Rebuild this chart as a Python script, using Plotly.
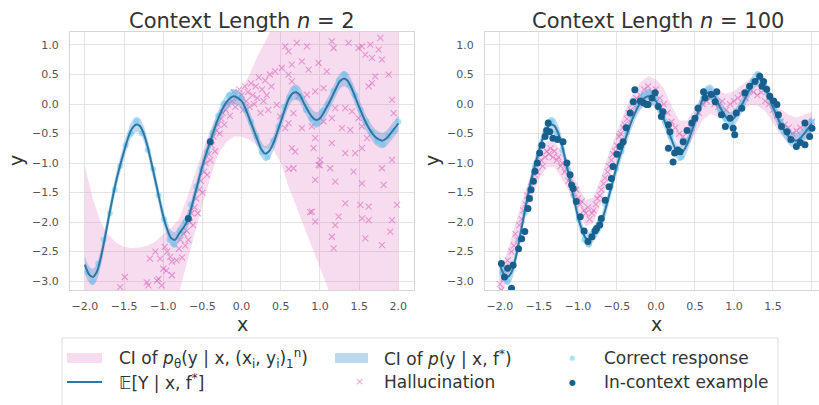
import plotly.graph_objects as go

# ---------------- data ----------------
# true mean function E[Y | x, f*]
true_x = [-2.0, -1.95, -1.9, -1.85, -1.8, -1.75, -1.7, -1.6, -1.5, -1.45, -1.4, -1.35, -1.3, -1.25, -1.2,
          -1.1, -1.0, -0.95, -0.9, -0.85, -0.8, -0.7, -0.6, -0.5, -0.4, -0.3, -0.2, -0.1, 0.0, 0.05, 0.1,
          0.2, 0.25, 0.3, 0.35, 0.4, 0.5, 0.6, 0.65, 0.7, 0.75, 0.8, 0.9, 0.95, 1.0, 1.1, 1.2, 1.25, 1.3,
          1.35, 1.4, 1.5, 1.6, 1.7, 1.75, 1.8, 1.85, 1.9, 2.0]
true_y = [-2.72, -2.88, -2.93, -2.85, -2.62, -2.3, -1.95, -1.3, -0.8, -0.58, -0.42, -0.35, -0.37, -0.5, -0.72,
          -1.3, -1.9, -2.12, -2.27, -2.3, -2.2, -2.0, -1.55, -1.05, -0.63, -0.25, 0.02, 0.13, 0.05, -0.08, -0.25,
          -0.6, -0.76, -0.84, -0.8, -0.68, -0.3, 0.08, 0.18, 0.2, 0.14, 0.0, -0.22, -0.27, -0.24, -0.02, 0.25, 0.38, 0.43,
          0.4, 0.28, -0.05, -0.35, -0.55, -0.6, -0.62, -0.58, -0.5, -0.33]
# CI of p(y | x, f*) : lower / upper
true_lo = [-2.86, -3.02, -3.07, -2.99, -2.76, -2.44, -2.09, -1.43, -0.93, -0.71, -0.55, -0.48, -0.5, -0.63, -0.85,
           -1.43, -2.03, -2.25, -2.4, -2.43, -2.33, -2.13, -1.68, -1.18, -0.76, -0.38, -0.11, 0.0, -0.08, -0.21, -0.38,
           -0.73, -0.89, -0.97, -0.93, -0.81, -0.43, -0.05, 0.05, 0.07, 0.01, -0.13, -0.35, -0.4, -0.37, -0.15, 0.12, 0.25, 0.3,
           0.27, 0.15, -0.18, -0.48, -0.68, -0.73, -0.75, -0.71, -0.63, -0.46]
true_hi = [-2.58, -2.74, -2.79, -2.71, -2.48, -2.16, -1.81, -1.17, -0.67, -0.45, -0.29, -0.22, -0.24, -0.37, -0.59,
           -1.17, -1.77, -1.99, -2.14, -2.17, -2.07, -1.87, -1.42, -0.92, -0.5, -0.12, 0.15, 0.26, 0.18, 0.05, -0.12,
           -0.47, -0.63, -0.71, -0.67, -0.55, -0.17, 0.21, 0.31, 0.33, 0.27, 0.13, -0.09, -0.14, -0.11, 0.11, 0.38, 0.51, 0.56,
           0.53, 0.41, 0.08, -0.22, -0.42, -0.47, -0.49, -0.45, -0.37, -0.2]

# grid for CI of p_theta
ci_x = [-2.0, -1.9, -1.8, -1.7, -1.6, -1.5, -1.4, -1.3, -1.2, -1.1, -1.0, -0.9, -0.8, -0.7, -0.6, -0.5, -0.4,
        -0.3, -0.2, -0.1, 0.0, 0.1, 0.2, 0.3, 0.4, 0.5, 0.6, 0.7, 0.8, 0.9, 1.0, 1.1, 1.2, 1.3, 1.4, 1.5, 1.6,
        1.7, 1.8, 1.9, 2.0]
# n = 2
pth_lo_n2 = [-3.6, -3.6, -3.6, -3.6, -3.6, -3.6, -3.6, -3.6, -3.6, -3.6, -3.6, -3.6, -3.2, -2.7, -2.2, -1.7, -1.25,
             -0.85, -0.65, -0.55, -0.55, -0.6, -0.7, -0.75, -0.75, -1.0, -1.4, -1.75, -2.1, -2.45, -2.8, -3.15, -3.5,
             -3.8, -3.8, -3.8, -3.8, -3.8, -3.8, -3.8, -3.8]
pth_hi_n2 = [-1.05, -1.6, -2.0, -2.22, -2.35, -2.42, -2.44, -2.43, -2.4, -2.33, -2.2, -2.1, -1.95, -1.6, -1.2, -0.8,
             -0.45, -0.15, 0.05, 0.15, 0.25, 0.5, 0.8, 1.05, 1.35, 1.6, 1.6, 1.6, 1.6, 1.6, 1.6, 1.6, 1.6, 1.6, 1.6,
             1.6, 1.6, 1.6, 1.6, 1.6, 1.6]
# n = 100
pth_lo_n100 = [-3.32, -2.92, -2.47, -2.02, -1.62, -1.27, -1.07, -1.07, -1.27, -1.52, -1.82, -2.07, -2.02, -1.67, -1.27,
               -0.92, -0.57, -0.27, -0.07, 0.03, -0.02, -0.17, -0.47, -0.72, -0.72, -0.52, -0.27, -0.17, -0.22, -0.27,
               -0.22, -0.12, -0.02, -0.02, -0.12, -0.32, -0.52, -0.62, -0.67, -0.62, -0.57]
pth_hi_n100 = [-2.88, -2.48, -2.03, -1.58, -1.18, -0.83, -0.63, -0.63, -0.83, -1.08, -1.38, -1.63, -1.58, -1.23, -0.83,
               -0.48, -0.13, 0.17, 0.37, 0.47, 0.42, 0.27, -0.03, -0.28, -0.28, -0.08, 0.17, 0.27, 0.22, 0.17, 0.22,
               0.32, 0.42, 0.42, 0.32, 0.12, -0.08, -0.18, -0.23, -0.18, -0.13]

# correct responses (samples of p(y | x, f*))
corr_x = [-1.97, -1.9, -1.83, -1.76, -1.68, -1.62, -1.55, -1.48, -1.41, -1.34, -1.27, -1.2, -1.13, -1.06, -0.99,
          -0.92, -0.86, -0.79, -0.72, -0.65, -0.58, -0.51, -0.44, -0.37, -0.3, -0.23, -0.16, -0.09, -0.02, 0.05,
          0.12, 0.19, 0.26, 0.33, 0.4, 0.47, 0.54, 0.61, 0.68, 0.75, 0.82, 0.89, 0.96, 1.03, 1.1, 1.17, 1.24, 1.31,
          1.38, 1.45, 1.52, 1.59, 1.66, 1.73, 1.8, 1.87, 1.94, 2.0]
corr_y = [-2.85, -3.0, -2.7, -2.3, -1.85, -1.45, -1.05, -0.7, -0.5, -0.3, -0.5, -0.78, -1.1, -1.55, -1.95,
          -2.3, -2.38, -2.15, -2.0, -1.7, -1.4, -1.1, -0.8, -0.48, -0.2, 0.0, 0.15, 0.18, 0.1, -0.1,
          -0.3, -0.55, -0.82, -0.9, -0.62, -0.38, -0.05, 0.12, 0.25, 0.1, -0.1, -0.25, -0.32, -0.12, 0.0, 0.22, 0.4, 0.5,
          0.32, 0.15, -0.1, -0.3, -0.48, -0.62, -0.68, -0.55, -0.45, -0.3]

# hallucinations, n = 2
hal2_x = [-1.17, -1.04, -0.98, -0.89, -1.0, -1.06, -1.19, -1.49, -1.55, -0.91, -0.83, -1.21, -1.08, -0.96, -1.02,
          -0.89, -1.1, -0.95,
          -0.8, -0.78, -0.76, -0.74, -0.72, -0.7, -0.68, -0.66, -0.64, -0.62, -0.6, -0.58, -0.56, -0.54, -0.52,
          -0.5, -0.48, -0.46, -0.44, -0.42, -0.4, -0.38, -0.36, -0.34, -0.32, -0.3, -0.28, -0.26, -0.24, -0.22,
          -0.2, -0.18, -0.15, -0.12, -0.1, -0.08, -0.05, -0.03, 0.0, 0.02, 0.04, 0.06, 0.08, 0.1, 0.12, 0.14,
          0.16, 0.18, 0.2, 0.22, 0.24, 0.26, 0.28, 0.3, 0.32, 0.34, 0.36, 0.38,
          0.556, 0.598, 0.705, 0.833, 1.152, 1.174, 1.365, 1.536, 1.642, 1.77, 1.749, 1.664, 1.578, 1.493, 1.791,
          1.876, 1.706, 1.664, 1.621, 1.919, 1.94, 0.428, 0.513, 0.641, 0.769, 0.854, 0.982, 1.088, 1.046, 0.939,
          0.833, 0.726, 0.641, 0.598, 0.662, 0.598, 0.556, 0.769, 0.897, 1.046, 1.152, 1.195, 1.323, 1.408, 1.493,
          1.28, 1.387, 1.536, 1.6, 1.536, 1.45, 1.323, 1.152, 0.939, 0.918, 1.003, 0.641, 0.684, 0.662, 0.939,
          0.982, 1.195, 1.131, 1.429, 1.536, 1.791, 1.813, 1.919, 1.983, 1.323, 1.514, 1.621, 1.536, 1.621, 1.238,
          1.195, 0.939, 0.897, 1.152, 1.174, 1.578, 1.791, 1.919, 1.898, 0.449, 0.492, 0.6, 1.0, 0.875]
hal2_y = [-2.62, -2.62, -2.42, -2.67, -2.79, -2.96, -3.07, -2.93, -3.1, -2.59, -2.65, -3.02, -2.99, -2.82, -3.07,
          -2.9, -2.5, -2.5,
          -2.45, -2.3, -2.6, -2.2, -2.4, -2.15, -2.3, -2.0, -1.85, -2.05, -1.75, -1.6, -1.85, -1.45, -1.3,
          -1.5, -1.15, -1.0, -1.2, -0.85, -0.95, -0.7, -0.55, -0.8, -0.45, -0.35, -0.5, -0.25, -0.15, -0.35,
          -0.1, 0.0, -0.2, 0.05, 0.2, -0.05, 0.1, 0.25, 0.15, -0.1, 0.3, 0.05, 0.2, -0.05, 0.35, 0.15,
          0.0, 0.3, 0.1, 0.45, -0.15, 0.25, 0.05, 0.4, 0.15, -0.1, 0.5, 0.3,
          0.978, 0.893, 1.034, 0.978, 1.063, 0.949, 1.034, 0.978, 1.006, 1.12, 0.921, 0.78, 0.836, 0.949, 0.751,
          0.497, 0.468, 0.355, 0.299, 0.072, -0.154, 0.553, 0.61, 0.666, 0.723, 0.582, 0.695, 0.553, 0.27, 0.214,
          0.157, 0.129, 0.383, 0.497, -0.154, -0.324, -0.409, -0.409, -0.38, -0.296, -0.239, -0.069, -0.069, -0.126, -0.239,
          -0.409, -0.437, -0.38, -0.578, -0.748, -0.833, -0.833, -0.663, -0.578, -0.748, -0.946, -0.748, -0.805, -1.088, -1.286,
          -1.031, -1.314, -1.088, -1.144, -1.343, -1.088, -1.371, -0.946, -1.71, -1.682, -1.71, -1.739, -1.937, -1.965, -1.908,
          -2.05, -1.993, -1.824, -2.248, -2.446, -2.276, -2.39, -1.965, -2.163, -0.013, -0.211, -1.1, -1.04, -1.83]

# in-context examples, n = 2
ctx2_x = [-0.68, -0.40]
ctx2_y = [-1.94, -0.64]

# hallucinations, n = 100
hal100_x = [-2.0, -1.98, -1.95, -1.92, -1.9, -1.87, -1.85, -1.82, -1.8, -1.77, -1.75, -1.72, -1.7, -1.67, -1.65,
            -1.62, -1.6, -1.57, -1.55, -1.52, -1.5, -1.47, -1.45, -1.42, -1.4, -1.37, -1.35, -1.32, -1.3, -1.27,
            -1.25, -1.22, -1.2, -1.17, -1.15, -1.12, -1.1, -1.07, -1.05, -1.02, -1.0, -0.97, -0.95, -0.92, -0.9,
            -0.87, -0.85, -0.82, -0.8, -0.77, -0.75, -0.72, -0.7, -0.67, -0.65, -0.62, -0.6, -0.57, -0.55, -0.52,
            -0.5, -0.47, -0.45, -0.42, -0.4, -0.37, -0.35, -0.32, -0.3, -0.25, -0.2, -0.15, -0.1, -0.05, 0.0, 0.05,
            0.1, 0.15, 0.2, 0.25, 0.3, 0.35, 0.4, 0.45, 0.5, 0.55, 0.6, 0.65, 0.7, 0.75, 0.8, 0.85, 0.9, 0.95, 1.0,
            1.05, 1.1, 1.15, 1.2, 1.25, 1.3, 1.35, 1.4, 1.45, 1.5, 1.55, 1.6, 1.65, 1.7, 1.75, 1.8, 1.85, 1.9,
            1.95, 2.0]
hal100_y = [-3.05, -3.15, -2.95, -2.8, -2.65, -2.75, -2.5, -2.4, -2.2, -2.3, -2.05, -1.95, -1.8, -1.7, -1.55,
            -1.6, -1.4, -1.3, -1.2, -1.15, -1.0, -0.95, -1.05, -0.9, -0.8, -0.85, -0.75, -0.9, -0.8, -0.95,
            -0.9, -1.05, -1.0, -1.15, -1.1, -1.3, -1.25, -1.4, -1.5, -1.45, -1.6, -1.7, -1.65, -1.8, -1.85,
            -1.75, -1.95, -1.85, -1.8, -1.7, -1.6, -1.55, -1.45, -1.35, -1.25, -1.15, -1.05, -0.95, -0.85, -0.8,
            -0.7, -0.55, -0.5, -0.4, -0.35, -0.25, -0.15, -0.1, 0.0, 0.1, 0.15, 0.25, 0.3, 0.2, 0.25, 0.1,
            0.0, -0.15, -0.3, -0.4, -0.5, -0.55, -0.45, -0.4, -0.25, -0.15, 0.0, 0.05, 0.1, 0.0, -0.05, 0.05, -0.1,
            0.0, 0.05, 0.1, 0.15, 0.1, 0.25, 0.2, 0.15, 0.2, 0.05, 0.0, -0.1, -0.2, -0.3, -0.35, -0.4, -0.5, -0.45,
            -0.4, -0.35, -0.45, -0.3]

# in-context examples, n = 100
ctx100_x = [-1.98, -1.94, -1.9, -1.85, -1.83, -1.76, -1.72, -1.68, -1.64, -1.62, -1.6, -1.57, -1.55, -1.52,
            -1.49, -1.46, -1.42, -1.4, -1.38, -1.36, -1.32, -1.26, -1.19, -1.14, -1.1, -1.08, -1.06, -1.02, -0.97,
            -0.92, -0.87, -0.82, -0.78, -0.76, -0.72, -0.7, -0.65, -0.6, -0.57, -0.55, -0.5, -0.46, -0.42, -0.38,
            -0.33, -0.29, -0.27, -0.2, -0.16, -0.12, -0.1, -0.05, -0.01, 0.03, 0.07, 0.09, 0.16, 0.18, 0.16, 0.22,
            0.24, 0.28, 0.31, 0.35, 0.4, 0.46, 0.5, 0.54, 0.61, 0.63, 0.71, 0.76, 0.78, 0.84, 0.89, 0.95, 0.99,
            1.01, 1.03, 1.1, 1.14, 1.2, 1.27, 1.33, 1.36, 1.38, 1.42, 1.46, 1.51, 1.55, 1.57, 1.61, 1.68, 1.73,
            1.8, 1.85, 1.91, 1.91, 1.97, 2.0]
ctx100_y = [-2.7, -2.93, -2.78, -3.12, -2.73, -2.45, -2.28, -2.16, -1.77, -1.6, -1.45, -1.31, -1.14, -1.0,
            -0.83, -0.7, -0.55, -0.45, -0.32, -0.47, -0.58, -0.6, -0.64, -1.0, -1.2, -1.37, -1.43, -1.65, -1.91,
            -2.15, -2.33, -2.25, -2.15, -2.11, -2.05, -1.94, -1.63, -1.4, -1.26, -1.06, -0.85, -0.72, -0.64, -0.4,
            -0.15, 0.04, 0.24, 0.05, 0.02, -0.01, -0.01, 0.1, 0.19, -0.04, -0.21, -0.13, -0.35, -0.47, -0.75, -0.98,
            -0.83, -0.78, -0.81, -0.64, -0.45, -0.32, -0.24, -0.07, 0.21, 0.1, 0.16, 0.04, 0.21, -0.18, -0.38, -0.24, -0.41,
            -0.52, -0.15, -0.07, 0.19, 0.3, 0.38, 0.47, 0.3, 0.38, 0.25, 0.13, 0.05, -0.01, -0.18, -0.38, -0.47, -0.6,
            -0.72, -0.65, -0.69, -0.32, -0.55, -0.41]

x_ticks = [-2.0, -1.5, -1.0, -0.5, 0.0, 0.5, 1.0, 1.5, 2.0]
x_tick_text = ["−2.0", "−1.5", "−1.0", "−0.5", "0.0", "0.5", "1.0", "1.5", "2.0"]
y_ticks = [-3.0, -2.5, -2.0, -1.5, -1.0, -0.5, 0.0, 0.5, 1.0]
y_tick_text = ["−3.0", "−2.5", "−2.0", "−1.5", "−1.0", "−0.5", "0.0", "0.5", "1.0"]

titles = ["Context Length <i>n</i> = 2", "Context Length <i>n</i> = 100"]
legend_labels = ["CI of <i>p</i><sub>θ</sub>(y | x, (x<sub>i</sub>, y<sub>i</sub>)<sub>1</sub><sup>n</sup>)",
                 "𝔼[Y | x, f<sup>*</sup>]",
                 "CI of <i>p</i>(y | x, f<sup>*</sup>)",
                 "Hallucination",
                 "Correct response",
                 "In-context example"]

# ---------------- styling ----------------
W, H = 819, 405
FONT = "DejaVu Sans"
PINK_FILL = "rgba(222,112,190,0.25)"
PINK_X = "rgba(214,90,178,0.55)"
BLUE_FILL = "rgba(70,150,210,0.36)"
CORR = "rgba(90,200,245,0.5)"
LINE = "#2c78a4"
DOT = "#17608e"


def px(x):
    return x / W


def py(y):
    return 1 - y / H


fig = go.Figure()

panels = [
    dict(xa="x", ya="y", lo=pth_lo_n2, hi=pth_hi_n2, hx=hal2_x, hy=hal2_y, cx=ctx2_x, cy=ctx2_y),
    dict(xa="x2", ya="y2", lo=pth_lo_n100, hi=pth_hi_n100, hx=hal100_x, hy=hal100_y, cx=ctx100_x, cy=ctx100_y),
]

for p in panels:
    ax = dict(xaxis=p["xa"], yaxis=p["ya"], showlegend=False, hoverinfo="skip")
    fig.add_trace(go.Scatter(x=ci_x, y=p["lo"], mode="lines", line=dict(width=0, color=PINK_FILL), **ax))
    fig.add_trace(go.Scatter(x=ci_x, y=p["hi"], mode="lines", line=dict(width=0, color=PINK_FILL),
                             fill="tonexty", fillcolor=PINK_FILL, **ax))
    fig.add_trace(go.Scatter(x=p["hx"], y=p["hy"], mode="markers",
                             marker=dict(symbol="x-thin", size=6, line=dict(width=1.1, color=PINK_X)), **ax))
    fig.add_trace(go.Scatter(x=true_x, y=true_lo, mode="lines", line=dict(width=0, shape="spline", color=BLUE_FILL), **ax))
    fig.add_trace(go.Scatter(x=true_x, y=true_hi, mode="lines", line=dict(width=0, shape="spline", color=BLUE_FILL),
                             fill="tonexty", fillcolor=BLUE_FILL, **ax))
    fig.add_trace(go.Scatter(x=corr_x, y=corr_y, mode="markers",
                             marker=dict(size=6, color=CORR, line=dict(width=0)), **ax))
    fig.add_trace(go.Scatter(x=true_x, y=true_y, mode="lines",
                             line=dict(width=2, color=LINE, shape="spline", smoothing=0.8), **ax))
    fig.add_trace(go.Scatter(x=p["cx"], y=p["cy"], mode="markers",
                             marker=dict(size=7, color=DOT, line=dict(width=0)), **ax))

axis_common = dict(showgrid=True, gridcolor="#e4e4e4", gridwidth=1, zeroline=False, showline=True,
                   linecolor="#d6d6d6", linewidth=1, mirror=True, ticks="",
                   tickfont=dict(family=FONT, size=11, color="#555555"))

fig.update_layout(
    width=W, height=H, margin=dict(l=0, r=0, t=0, b=0),
    plot_bgcolor="white", paper_bgcolor="white", showlegend=False,
    font=dict(family=FONT, color="#333333"),
    xaxis=dict(domain=[px(70), px(414)], range=[-2.19, 2.2], tickvals=x_ticks, ticktext=x_tick_text,
               ticklabelstandoff=6, **axis_common),
    yaxis=dict(domain=[py(290), py(32)], range=[-3.15, 1.22], tickvals=y_ticks, ticktext=y_tick_text,
               ticklabelstandoff=8, **axis_common),
    xaxis2=dict(domain=[px(485), 1.0], range=[-2.19, 2.09], tickvals=x_ticks, ticktext=x_tick_text,
                ticklabelstandoff=6, anchor="y2", **axis_common),
    yaxis2=dict(domain=[py(290), py(32)], range=[-3.15, 1.22], tickvals=y_ticks, ticktext=y_tick_text,
                ticklabelstandoff=8, anchor="x2", **axis_common),
)

ann = []
for cx, t in zip([242, 658], titles):
    ann.append(dict(x=px(cx), y=py(21), xref="paper", yref="paper", text=t, showarrow=False,
                    font=dict(family=FONT, size=21, color="#333333"), xanchor="center", yanchor="middle"))
for cx in [242, 656]:
    ann.append(dict(x=px(cx), y=py(324), xref="paper", yref="paper", text="x", showarrow=False,
                    font=dict(family=FONT, size=19, color="#333333"), xanchor="center", yanchor="middle"))
for cx in [16, 432]:
    ann.append(dict(x=px(cx), y=py(161), xref="paper", yref="paper", text="y", showarrow=False, textangle=-90,
                    font=dict(family=FONT, size=19, color="#333333"), xanchor="center", yanchor="middle"))

shapes = [
    dict(type="rect", xref="paper", yref="paper", x0=px(62), x1=px(778), y0=py(412), y1=py(338),
         line=dict(color="#dddddd", width=1), fillcolor="rgba(255,255,255,0.9)", layer="above"),
    dict(type="rect", xref="paper", yref="paper", x0=px(67), x1=px(102), y0=py(363), y1=py(353),
         line=dict(width=0), fillcolor=PINK_FILL, layer="above"),
    dict(type="line", xref="paper", yref="paper", x0=px(67), x1=px(102), y0=py(382), y1=py(382),
         line=dict(color=LINE, width=2), layer="above"),
    dict(type="rect", xref="paper", yref="paper", x0=px(335), x1=px(368), y0=py(363), y1=py(353),
         line=dict(width=0), fillcolor=BLUE_FILL, layer="above"),
]
leg_pos = [(117, 358), (117, 382), (382, 358), (382, 382), (602, 358), (602, 382)]
for (lx, ly), t in zip(leg_pos, legend_labels):
    ann.append(dict(x=px(lx), y=py(ly), xref="paper", yref="paper", text=t, showarrow=False,
                    font=dict(family=FONT, size=17, color="#333333"), xanchor="left", yanchor="middle"))
ann.append(dict(x=px(359), y=py(381), xref="paper", yref="paper", text="×", showarrow=False,
                font=dict(family=FONT, size=11, color=PINK_X), xanchor="center", yanchor="middle"))
ann.append(dict(x=px(572), y=py(358), xref="paper", yref="paper", text="●", showarrow=False,
                font=dict(family=FONT, size=7, color=CORR), xanchor="center", yanchor="middle"))
ann.append(dict(x=px(572), y=py(382), xref="paper", yref="paper", text="●", showarrow=False,
                font=dict(family=FONT, size=8, color=DOT), xanchor="center", yanchor="middle"))

fig.update_layout(annotations=ann, shapes=shapes)
fig.write_html("out.html", config={"displayModeBar": False, "staticPlot": True},
               post_script="document.body.style.margin='0';document.body.style.overflow='hidden';")
